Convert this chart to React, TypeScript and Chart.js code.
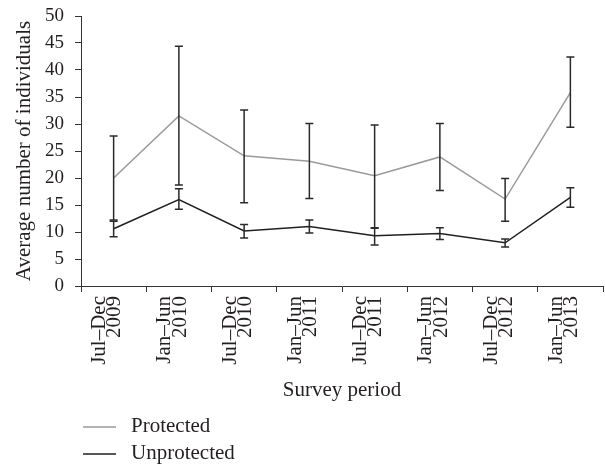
import React, { useEffect, useRef } from "react";
import { Chart, registerables } from "chart.js";

Chart.register(...registerables);

const categories: string[][] = [
  ["Jul–Dec", "2009"],
  ["Jan–Jun", "2010"],
  ["Jul–Dec", "2010"],
  ["Jan–Jun", "2011"],
  ["Jul–Dec", "2011"],
  ["Jan–Jun", "2012"],
  ["Jul–Dec", "2012"],
  ["Jan–Jun", "2013"],
];

const protectedMean = [20.0, 31.5, 24.1, 23.1, 20.4, 23.9, 16.1, 35.8];
const protectedLow = [12.2, 18.7, 15.4, 16.2, 10.8, 17.7, 12.0, 29.4];
const protectedHigh = [27.8, 44.4, 32.6, 30.1, 29.8, 30.1, 19.9, 42.4];

const unprotectedMean = [10.6, 16.0, 10.2, 11.0, 9.3, 9.7, 8.0, 16.4];
const unprotectedLow = [9.1, 14.2, 8.9, 9.8, 7.6, 8.6, 7.2, 14.6];
const unprotectedHigh = [12.0, 18.0, 11.4, 12.2, 10.7, 10.8, 8.7, 18.2];

const yTicks = [0, 5, 10, 15, 20, 25, 30, 35, 40, 45, 50];

const FONT = "'Liberation Serif', 'Times New Roman', serif";
const TEXT = "#231f20";
const GRAY = "#9a9a9a";
const DARK = "#231f20";

const errorBarPlugin = {
  id: "errorBars",
  afterDatasetsDraw(chart: any) {
    const ctx = chart.ctx;
    const y = chart.scales.y;
    const ranges = [
      [protectedLow, protectedHigh],
      [unprotectedLow, unprotectedHigh],
    ];
    ctx.save();
    ctx.strokeStyle = "#2a2a2a";
    ctx.lineWidth = 1.5;
    chart.data.datasets.forEach((_ds: any, di: number) => {
      const meta = chart.getDatasetMeta(di);
      const [lo, hi] = ranges[di];
      meta.data.forEach((pt: any, i: number) => {
        const x = pt.x;
        const yl = y.getPixelForValue(lo[i]);
        const yh = y.getPixelForValue(hi[i]);
        ctx.beginPath();
        ctx.moveTo(x, yl);
        ctx.lineTo(x, yh);
        ctx.moveTo(x - 4, yl);
        ctx.lineTo(x + 4, yl);
        ctx.moveTo(x - 4, yh);
        ctx.lineTo(x + 4, yh);
        ctx.stroke();
      });
    });
    ctx.restore();
  },
};

const legendPlugin = {
  id: "stackedLegend",
  afterDraw(chart: any) {
    const ctx = chart.ctx;
    const left = chart.chartArea.left;
    const H = chart.height;
    const items = chart.data.datasets.map((ds: any, i: number) => ({
      label: ds.label,
      color: ds.borderColor,
      y: H - 37 + i * 27,
    }));
    ctx.save();
    ctx.font = `21px ${FONT}`;
    ctx.textBaseline = "middle";
    ctx.textAlign = "left";
    items.forEach((it: any) => {
      ctx.strokeStyle = it.color;
      ctx.lineWidth = 1.5;
      ctx.beginPath();
      ctx.moveTo(left + 2, it.y);
      ctx.lineTo(left + 35, it.y);
      ctx.stroke();
      ctx.fillStyle = TEXT;
      ctx.fillText(it.label, left + 50, it.y - 1);
    });
    ctx.restore();
  },
};

export default function App() {
  const ref = useRef<HTMLCanvasElement>(null);

  useEffect(() => {
    if (!ref.current) return;
    const chart = new Chart(ref.current, {
      type: "line",
      data: {
        labels: categories,
        datasets: [
          {
            label: "Protected",
            data: protectedMean,
            borderColor: GRAY,
            backgroundColor: GRAY,
            borderWidth: 1.5,
            pointRadius: 0,
            tension: 0,
          },
          {
            label: "Unprotected",
            data: unprotectedMean,
            borderColor: DARK,
            backgroundColor: DARK,
            borderWidth: 1.5,
            pointRadius: 0,
            tension: 0,
          },
        ],
      },
      options: {
        responsive: false,
        animation: false,
        layout: { padding: { top: 16, right: 2, bottom: 59, left: 0 } },
        plugins: {
          legend: { display: false },
          tooltip: { enabled: false },
        },
        scales: {
          x: {
            type: "category",
            offset: true,
            afterFit: (scale: any) => {
              scale.height = 119;
            },
            border: { display: true, color: "#333", width: 1 },
            grid: {
              display: true,
              offset: true,
              drawOnChartArea: false,
              drawTicks: true,
              tickLength: 6,
              color: "#333",
            },
            ticks: {
              maxRotation: 90,
              minRotation: 90,
              autoSkip: false,
              padding: 4,
              labelOffset: -14,
              color: TEXT,
              font: { family: FONT, size: 21, lineHeight: 0.72 },
            },
            title: {
              display: true,
              text: "Survey period",
              color: TEXT,
              font: { family: FONT, size: 21 },
              padding: { top: 0, bottom: 2 },
            },
          },
          y: {
            min: 0,
            max: 50,
            afterFit: (scale: any) => {
              scale.width = 81;
            },
            afterBuildTicks: (scale: any) => {
              scale.ticks = yTicks.map((v) => ({ value: v }));
            },
            border: { display: true, color: "#333", width: 1 },
            grid: {
              display: true,
              drawOnChartArea: false,
              drawTicks: true,
              tickLength: 6,
              color: "#333",
            },
            ticks: {
              padding: 11,
              color: TEXT,
              font: { family: FONT, size: 19, lineHeight: 0.5 },
            },
            title: {
              display: true,
              text: "Average number of individuals",
              color: TEXT,
              font: { family: FONT, size: 21 },
              padding: { top: 12, bottom: 0 },
            },
          },
        },
      },
      plugins: [errorBarPlugin, legendPlugin],
    });
    return () => chart.destroy();
  }, []);

  return (
    <div style={{ position: "absolute", left: 0, top: 0, width: 605, height: 464, background: "#fff" }}>
      <canvas ref={ref} width={605} height={464} />
    </div>
  );
}
